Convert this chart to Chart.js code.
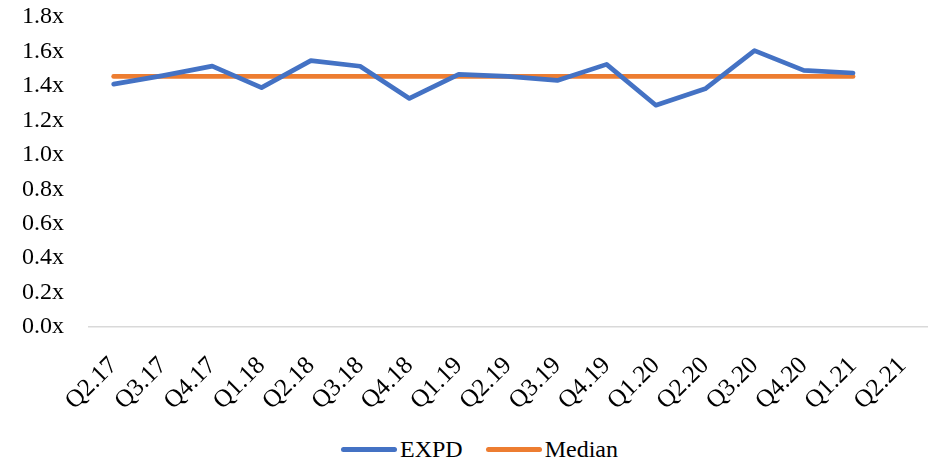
<!DOCTYPE html>
<html>
<head>
<meta charset="utf-8">
<script src="https://cdn.jsdelivr.net/npm/chart.js@4/dist/chart.umd.min.js"></script>
<style>
    html, body { margin: 0; padding: 0; background: #fff; }
    #wrap { position: relative; width: 932px; height: 425px; }
    #legend {
        width: 932px; height: 31px; margin-top: 9px; box-sizing: border-box; padding-left: 341px;
        display: flex; align-items: center;
        font-family: 'Liberation Serif', 'DejaVu Serif', serif; font-size: 24px; color: #000;
    }
    .legend-item { display: flex; align-items: center; margin-right: 23px; }
    .legend-color { display: inline-block; width: 56px; height: 5px; border-radius: 3px; margin-right: 3px; }
</style>
</head>
<body>
<div id="wrap"><canvas id="multipleChart"></canvas></div>
<div id="legend"></div>
<script>
    const quarters = ['Q2.17', 'Q3.17', 'Q4.17', 'Q1.18', 'Q2.18', 'Q3.18', 'Q4.18', 'Q1.19', 'Q2.19',
        'Q3.19', 'Q4.19', 'Q1.20', 'Q2.20', 'Q3.20', 'Q4.20', 'Q1.21', 'Q2.21'];
    const expdValues = [1.41, 1.46, 1.515, 1.39, 1.547, 1.514, 1.327, 1.467, 1.455,
        1.432, 1.525, 1.288, 1.383, 1.605, 1.49, 1.475, null];
    const medianValues = [1.455, 1.455, 1.455, 1.455, 1.455, 1.455, 1.455, 1.455, 1.455,
        1.455, 1.455, 1.455, 1.455, 1.455, 1.455, 1.455, null];
    const yTicks = [0, 0.2, 0.4, 0.6, 0.8, 1.0, 1.2, 1.4, 1.6, 1.8];

    const serif = "'Liberation Serif', 'DejaVu Serif', serif";

    const chartData = {
        labels: quarters,
        datasets: [{
            label: 'EXPD',
            data: expdValues,
            borderColor: '#4472C4',
            backgroundColor: '#4472C4',
            borderWidth: 4.7,
            pointRadius: 0,
            tension: 0,
            borderJoinStyle: 'round',
            borderCapStyle: 'round'
        }, {
            label: 'Median',
            data: medianValues,
            borderColor: '#ED7D31',
            backgroundColor: '#ED7D31',
            borderWidth: 4.7,
            pointRadius: 0,
            tension: 0,
            borderCapStyle: 'round'
        }]
    };

    new Chart(document.getElementById('multipleChart'), {
        type: 'line',
        data: chartData,
        options: {
            responsive: true,
            maintainAspectRatio: false,
            animation: false,
            layout: { padding: { left: 22, right: 5, top: 17, bottom: 0 } },
            plugins: {
                legend: { display: false },
                tooltip: { enabled: false }
            },
            scales: {
                x: {
                    offset: true,
                    grid: { display: false, drawTicks: false },
                    border: { display: true, color: '#d9d9d9', width: 1.5 },
                    ticks: {
                        color: '#000',
                        minRotation: 45,
                        maxRotation: 45,
                        padding: 24,
                        autoSkip: false,
                        font: { family: serif, size: 25 }
                    },
                    afterFit: function(scale) {
                        // keep the rotated first label from pushing the plot right
                        scale.paddingLeft = 0;
                        scale.paddingRight = 0;
                        scale.height -= 15;
                    }
                },
                y: {
                    min: 0,
                    max: 1.8,
                    afterBuildTicks: function(axis) {
                        axis.ticks = yTicks.map(v => ({ value: v }));
                    },
                    grid: { display: false, drawTicks: false },
                    border: { display: false },
                    ticks: {
                        color: '#000',
                        padding: 25,
                        font: { family: serif, size: 24 },
                        callback: function(v) { return Number(v).toFixed(1) + 'x'; }
                    },
                    afterFit: function(scale) {
                        scale.paddingTop = 0;
                        scale.paddingBottom = 0;
                        scale.width -= 25;
                    }
                }
            }
        }
    });

    // Legend under the chart, built from the datasets
    const legendContainer = document.getElementById('legend');
    chartData.datasets.forEach(ds => {
        const legendItem = document.createElement('div');
        legendItem.classList.add('legend-item');
        const colorBox = document.createElement('span');
        colorBox.classList.add('legend-color');
        colorBox.style.backgroundColor = ds.borderColor;
        const labelText = document.createElement('span');
        labelText.textContent = ds.label;
        legendItem.appendChild(colorBox);
        legendItem.appendChild(labelText);
        legendContainer.appendChild(legendItem);
    });
</script>
</body>
</html>
